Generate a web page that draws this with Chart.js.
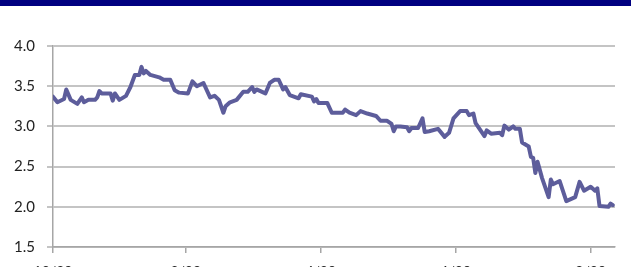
<!DOCTYPE html>
<html>
<head>
<meta charset="utf-8">
<script src="https://cdn.jsdelivr.net/npm/chart.js@4/dist/chart.umd.min.js"></script>
<style>
  html, body { margin: 0; padding: 0; background: #fff; }
  #wrap { position: relative; width: 631px; height: 268px; overflow: hidden; }
  #band { position: absolute; left: 0; top: 0; width: 631px; height: 6px; background: #000080; }
  #chart { position: absolute; left: 0; top: 0; }
</style>
</head>
<body>
<div id="wrap">
  <canvas id="chart" width="631" height="268"></canvas>
  <div id="band"></div>
</div>
<script>
/******************************************************************
DATA  (x = days since 12/29)
******************************************************************/
var days = [0, 2, 5, 6, 8, 11, 13, 14, 16, 19, 20, 21, 22, 26, 27, 28, 30, 33, 35, 37, 39, 40, 41, 42, 44,
  48, 50, 53, 55, 57, 61, 63, 65, 68, 71, 73, 75, 77, 78, 80, 83, 86, 88, 90, 91, 92, 96, 98, 100, 102,
  104, 105, 107, 111, 112, 117, 118, 119, 120, 124, 126, 130, 131, 132, 134, 137, 139, 142, 146, 148,
  151, 153, 154, 155, 157, 160, 161, 162, 165, 167, 168, 170, 174, 177, 179, 181, 184, 187, 188, 190,
  191, 193, 195, 196, 198, 202, 203, 204, 206, 208, 209, 211, 212, 215, 216, 217, 218, 219, 221, 224,
  225, 226, 229, 232, 236, 238, 240, 243, 245, 246, 247, 251, 252, 253];
var values = [3.37, 3.30, 3.34, 3.46, 3.33, 3.28, 3.36, 3.30, 3.33, 3.33, 3.36, 3.44, 3.41, 3.41, 3.32, 3.41, 3.33, 3.38, 3.49, 3.64, 3.64, 3.74, 3.66, 3.69, 3.64,
  3.61, 3.58, 3.58, 3.45, 3.42, 3.41, 3.56, 3.50, 3.54, 3.36, 3.38, 3.33, 3.17, 3.25, 3.30, 3.33, 3.43, 3.43, 3.49, 3.43, 3.46, 3.41, 3.54, 3.58, 3.58,
  3.46, 3.49, 3.39, 3.35, 3.40, 3.37, 3.31, 3.34, 3.29, 3.29, 3.17, 3.17, 3.17, 3.21, 3.17, 3.14, 3.19, 3.16, 3.13, 3.07,
  3.07, 3.03, 2.94, 3.00, 3.00, 2.99, 2.94, 2.98, 2.98, 3.10, 2.93, 2.94, 2.97, 2.87, 2.92, 3.10, 3.19, 3.19, 3.14, 3.16,
  3.04, 2.96, 2.88, 2.95, 2.91, 2.92, 2.89, 3.01, 2.96, 3.00, 2.97, 2.97, 2.80, 2.75, 2.62, 2.61, 2.42, 2.56, 2.36, 2.12,
  2.34, 2.28, 2.32, 2.07, 2.12, 2.31, 2.20, 2.25, 2.20, 2.23, 2.01, 2.00, 2.04, 2.02];

var tickDays = [0, 60, 121, 182, 243];
var tickLabels = ["12/29", "2/28", "4/29", "6/29", "8/29"];
var yTicks = [1.5, 2.0, 2.5, 3.0, 3.5, 4.0];

/******************************************************************
CHART
******************************************************************/
var points = [];
for (var i = 0; i < days.length; i++) {
  points.push({ x: days[i], y: values[i] });
}

var ctx = document.getElementById('chart').getContext('2d');
var chart = new Chart(ctx, {
  type: 'line',
  data: {
    datasets: [{
      data: points,
      borderColor: '#5D5D9B',
      borderWidth: 4,
      pointRadius: 0,
      tension: 0,
      borderJoinStyle: 'round',
      borderCapStyle: 'round'
    }]
  },
  options: {
    responsive: false,
    animation: false,
    layout: { padding: { top: 46, right: 16, left: 0, bottom: 0 } },
    plugins: { legend: { display: false }, tooltip: { enabled: false } },
    scales: {
      x: {
        type: 'linear',
        min: 0,
        max: 254,
        afterBuildTicks: function (axis) {
          axis.ticks = tickDays.map(function (d) { return { value: d }; });
        },
        afterFit: function (axis) { axis.height = 20; },
        grid: { display: true, drawOnChartArea: false, drawTicks: true, tickLength: 6, color: '#A6A6A6', lineWidth: 1.5 },
        border: { display: true, color: '#A6A6A6', width: 1.5 },
        ticks: {
          autoSkip: false,
          maxRotation: 0,
          padding: 10,
          color: '#222',
          font: { family: 'Lato', size: 14 },
          callback: function (v) {
            var k = tickDays.indexOf(v);
            return k >= 0 ? tickLabels[k] : '';
          }
        }
      },
      y: {
        min: 1.5,
        max: 4.0,
        afterBuildTicks: function (axis) {
          axis.ticks = yTicks.map(function (v) { return { value: v }; });
        },
        afterFit: function (axis) { axis.width = 53; },
        grid: { color: '#C4C4C4', lineWidth: 2, tickLength: 6, drawTicks: true },
        border: { display: true, color: '#A6A6A6', width: 1.5 },
        ticks: {
          padding: 12,
          color: '#222',
          font: { family: 'Lato', size: 15 },
          callback: function (v) { return v.toFixed(1); }
        }
      }
    }
  }
});
</script>
</body>
</html>
